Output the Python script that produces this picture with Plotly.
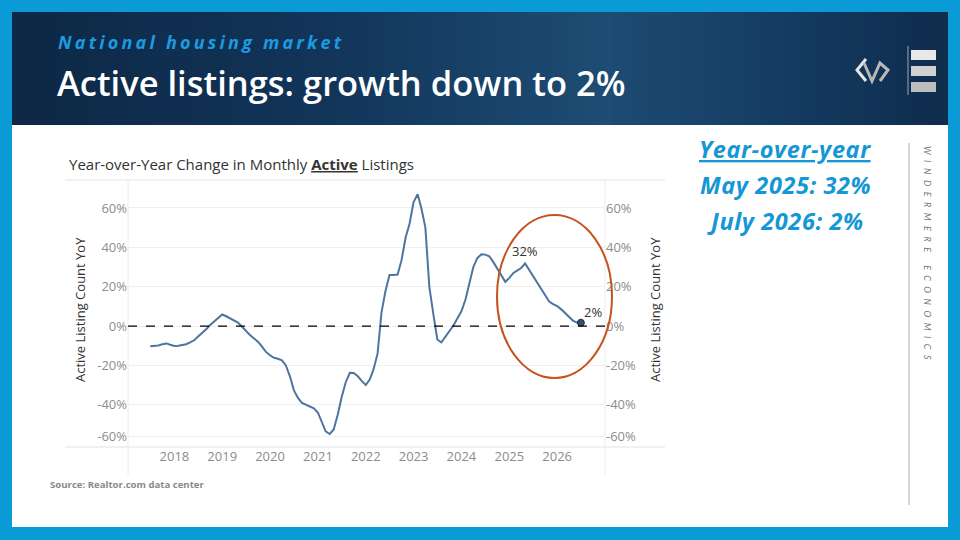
import pandas as pd
import plotly.graph_objects as go

# monthly YoY change in active listings, Jul 2017 - Jul 2026
months = pd.date_range("2017-07-01", "2026-07-01", freq="MS")
yoy = [
    -10.2, -10.0, -9.8, -9.2, -8.8, -9.5,                                   # 2017 H2
    -10.1, -10.0, -9.7, -9.2, -8.3, -7.2, -5.3, -3.6, -1.6, 0.6, 2.5, 4.4,  # 2018
    5.9, 5.0, 3.9, 2.9, 1.8, -0.3, -2.5, -4.5, -6.3, -7.9, -10.4, -13.1,   # 2019
    -14.8, -16.1, -16.6, -17.4, -20.0, -25.5, -32.5, -36.5, -39.0, -40.0, -40.8, -41.8,  # 2020
    -44.0, -49.5, -53.5, -54.8, -52.5, -45.0, -36.0, -28.5, -23.7, -23.8, -25.5, -27.8,  # 2021
    -29.9, -27.0, -22.0, -14.0, 7.0, 18.0, 26.0, 26.0, 26.2, 33.5, 45.0, 52.0,  # 2022
    63.0, 67.0, 60.0, 50.0, 20.0, 6.0, -6.8, -8.3, -5.5, -2.5, 0.3, 3.8,   # 2023
    7.5, 13.5, 22.0, 30.0, 34.5, 36.5, 36.3, 35.5, 32.5, 29.3, 26.0, 22.5,  # 2024
    24.5, 27.0, 28.2, 29.5, 31.8, 28.5, 25.3, 21.7, 18.3, 15.3, 12.5, 11.2,  # 2025
    10.2, 8.5, 6.7, 4.8, 2.8, 1.8, 1.7,                                     # 2026
]
year_ticks = list(range(2018, 2027))
pct_ticks = [60, 40, 20, 0, -20, -40, -56]
pct_labels = ["60%", "40%", "20%", "0%", "-20%", "-40%", "-60%"]

callout_month = "2025-05-01"
callout_label = "32%"
last_label = "2%"
side_lines = ["May 2025: 32%", "July 2026: 2%"]

BLUE = "#1597d6"
LINE = "#4e74a0"
TICK = "#8c8c8c"


def px(x):
    return x / 960


def py(y):
    return 1 - y / 540


fig = go.Figure()
fig.add_trace(go.Scatter(x=months, y=yoy, mode="lines",
                         line=dict(color=LINE, width=2), hoverinfo="skip"))
# invisible copy so the right hand axis is drawn
fig.add_trace(go.Scatter(x=months, y=yoy, mode="lines", yaxis="y2",
                         line=dict(color="rgba(0,0,0,0)", width=0), hoverinfo="skip"))
fig.add_trace(go.Scatter(x=[months[-1]], y=[yoy[-1]], mode="markers",
                         marker=dict(size=7, color="#34506e",
                                     line=dict(color="#1f2f40", width=1))))

tickfont = dict(family="Open Sans", size=13, color=TICK)
yax = dict(range=[-61.4, 74.2], domain=[py(447), py(180)], tickvals=pct_ticks,
           ticktext=pct_labels, tickfont=tickfont, zeroline=False, showline=False,
           ticks="")

fig.update_layout(
    width=960, height=540, margin=dict(l=0, r=0, t=0, b=0),
    paper_bgcolor="white", plot_bgcolor="white", showlegend=False,
    xaxis=dict(type="date", range=["2017-01-12", "2027-01-01"],
               domain=[px(128), px(605)],
               tickvals=[f"{y}-01-01" for y in year_ticks],
               ticktext=[str(y) for y in year_ticks],
               tickfont=tickfont, showgrid=False, zeroline=False, ticks=""),
    yaxis=dict(**yax, showgrid=True, gridcolor="#f0f0f0"),
    yaxis2=dict(**yax, overlaying="y", side="right", anchor="x", showgrid=False),
)

shapes = []
# header band with a soft horizontal shade
stops = [(12, (14, 40, 70)), (300, (18, 52, 88)), (600, (30, 76, 116)),
         (800, (20, 58, 96)), (948, (15, 44, 76))]
step = 12
x = 12
while x < 948:
    for (xa, ca), (xb, cb) in zip(stops[:-1], stops[1:]):
        if xa <= x < xb:
            t = (x - xa) / (xb - xa)
            c = tuple(int(ca[i] + (cb[i] - ca[i]) * t) for i in range(3))
    shapes.append(dict(type="rect", xref="paper", yref="paper", x0=px(x), x1=px(min(x + step, 948)),
                       y0=py(125), y1=py(12), fillcolor="rgb(%d,%d,%d)" % c, line_width=0))
    x += step

# blue frame
for x0, y0, x1, y1 in [(0, 0, 960, 12), (0, 527, 960, 540), (0, 0, 12, 540), (948, 0, 960, 540)]:
    shapes.append(dict(type="rect", xref="paper", yref="paper", x0=px(x0), x1=px(x1),
                       y0=py(y1), y1=py(y0), fillcolor="#0a9ad6", line_width=0))

# logo: chevrons and bars
shapes.append(dict(type="path", xref="paper", yref="paper",
                   path="M %f,%f L %f,%f L %f,%f" % (px(866), py(59), px(857), py(70), px(866), py(81)),
                   line=dict(color="#e6e6e6", width=3)))
shapes.append(dict(type="path", xref="paper", yref="paper",
                   path="M %f,%f L %f,%f L %f,%f L %f,%f L %f,%f" % (
                       px(864), py(63), px(872), py(81), px(880), py(63), px(888), py(70), px(880), py(81)),
                   line=dict(color="#b8b8b8", width=3)))
shapes.append(dict(type="line", xref="paper", yref="paper", x0=px(908), x1=px(908),
                   y0=py(95), y1=py(46), line=dict(color="#9aa6b2", width=1)))
for y0, col in [(50, "#e8e8e8"), (66, "#d0d0d0"), (82, "#bdbdbd")]:
    shapes.append(dict(type="rect", xref="paper", yref="paper", x0=px(911), x1=px(936),
                       y0=py(y0 + 10), y1=py(y0), fillcolor=col, line_width=0))

# chart frame lines (tableau style)
for yy in (180, 447):
    shapes.append(dict(type="line", xref="paper", yref="paper", x0=px(65), x1=px(665),
                       y0=py(yy), y1=py(yy), line=dict(color="#e2e2e2", width=1)))
for xx in (128, 605):
    shapes.append(dict(type="line", xref="paper", yref="paper", x0=px(xx), x1=px(xx),
                       y0=py(475), y1=py(180), line=dict(color="#ececec", width=1)))
# zero reference line
shapes.append(dict(type="line", xref="x domain", yref="y", x0=0, x1=1, y0=0, y1=0,
                   line=dict(color="black", width=1.3, dash="dash")))
# highlight ellipse
shapes.append(dict(type="circle", xref="paper", yref="paper", x0=px(497), x1=px(612),
                   y0=py(378), y1=py(215), line=dict(color="#c4531d", width=2)))
# right separator
shapes.append(dict(type="line", xref="paper", yref="paper", x0=px(909), x1=px(909),
                   y0=py(505), y1=py(143), line=dict(color="#b0b0b0", width=1)))
fig.update_layout(shapes=shapes)

ann = []
ann.append(dict(x=px(56), y=py(42), xref="paper", yref="paper", xanchor="left", yanchor="middle",
                text='<span style="letter-spacing:3.2px">National housing market</span>',
                showarrow=False, font=dict(family="Open Sans", size=18, color="#1b9be0",
                                           style="italic", weight="bold")))
ann.append(dict(x=px(55), y=py(83), xref="paper", yref="paper", xanchor="left", yanchor="middle",
                text="Active listings: growth down to 2%", showarrow=False,
                font=dict(family="Open Sans", size=34.5, color="white", weight=600)))
ann.append(dict(x=px(67), y=py(164), xref="paper", yref="paper", xanchor="left", yanchor="middle",
                text="Year-over-Year Change in Monthly <b><u>Active</u></b> Listings", showarrow=False,
                font=dict(family="Open Sans", size=15, color="#333333")))
for xx in (80, 655):
    ann.append(dict(x=px(xx), y=py(310), xref="paper", yref="paper", xanchor="center", yanchor="middle",
                    text="Active Listing Count YoY", textangle=-90, showarrow=False,
                    font=dict(family="Open Sans", size=13, color="#333333")))
ann.append(dict(x=callout_month, y=yoy[list(months).index(pd.Timestamp(callout_month))],
                xref="x", yref="y", text=callout_label, showarrow=False, yshift=12,
                font=dict(family="Open Sans", size=13, color="#333333")))
ann.append(dict(x=months[-1], y=yoy[-1], xref="x", yref="y", text=last_label, showarrow=False,
                xshift=12, yshift=11, font=dict(family="Open Sans", size=13, color="#333333")))
side_font = dict(family="Open Sans", size=23.5, color=BLUE, style="italic", weight="bold")
ann.append(dict(x=px(785), y=py(149), xref="paper", yref="paper", xanchor="center", yanchor="middle",
                text='<span style="letter-spacing:0.6px"><u>Year-over-year</u></span>',
                showarrow=False, font=side_font))
for i, line in enumerate(side_lines):
    ann.append(dict(x=px(785), y=py(185 + 36 * i), xref="paper", yref="paper", xanchor="center",
                    yanchor="middle", text='<span style="letter-spacing:0.6px">%s</span>' % line,
                    showarrow=False, font=side_font))
ann.append(dict(x=px(928), y=py(255), xref="paper", yref="paper", xanchor="center", yanchor="middle",
                text='<span style="letter-spacing:5.5px">WINDERMERE ECONOMICS</span>', textangle=90,
                showarrow=False, font=dict(family="Lato", size=9, color="#7a7a7a", style="italic")))
ann.append(dict(x=px(48), y=py(484), xref="paper", yref="paper", xanchor="left", yanchor="middle",
                text="Source: Realtor.com data center", showarrow=False,
                font=dict(family="Open Sans", size=9.6, color="#8a8a8a", weight="bold")))
fig.update_layout(annotations=ann)

# page body has a default margin; drop it so the figure sits at 0,0
fig.write_html("out.html", config={"displayModeBar": False},
               post_script="document.body.style.margin='0px';")
